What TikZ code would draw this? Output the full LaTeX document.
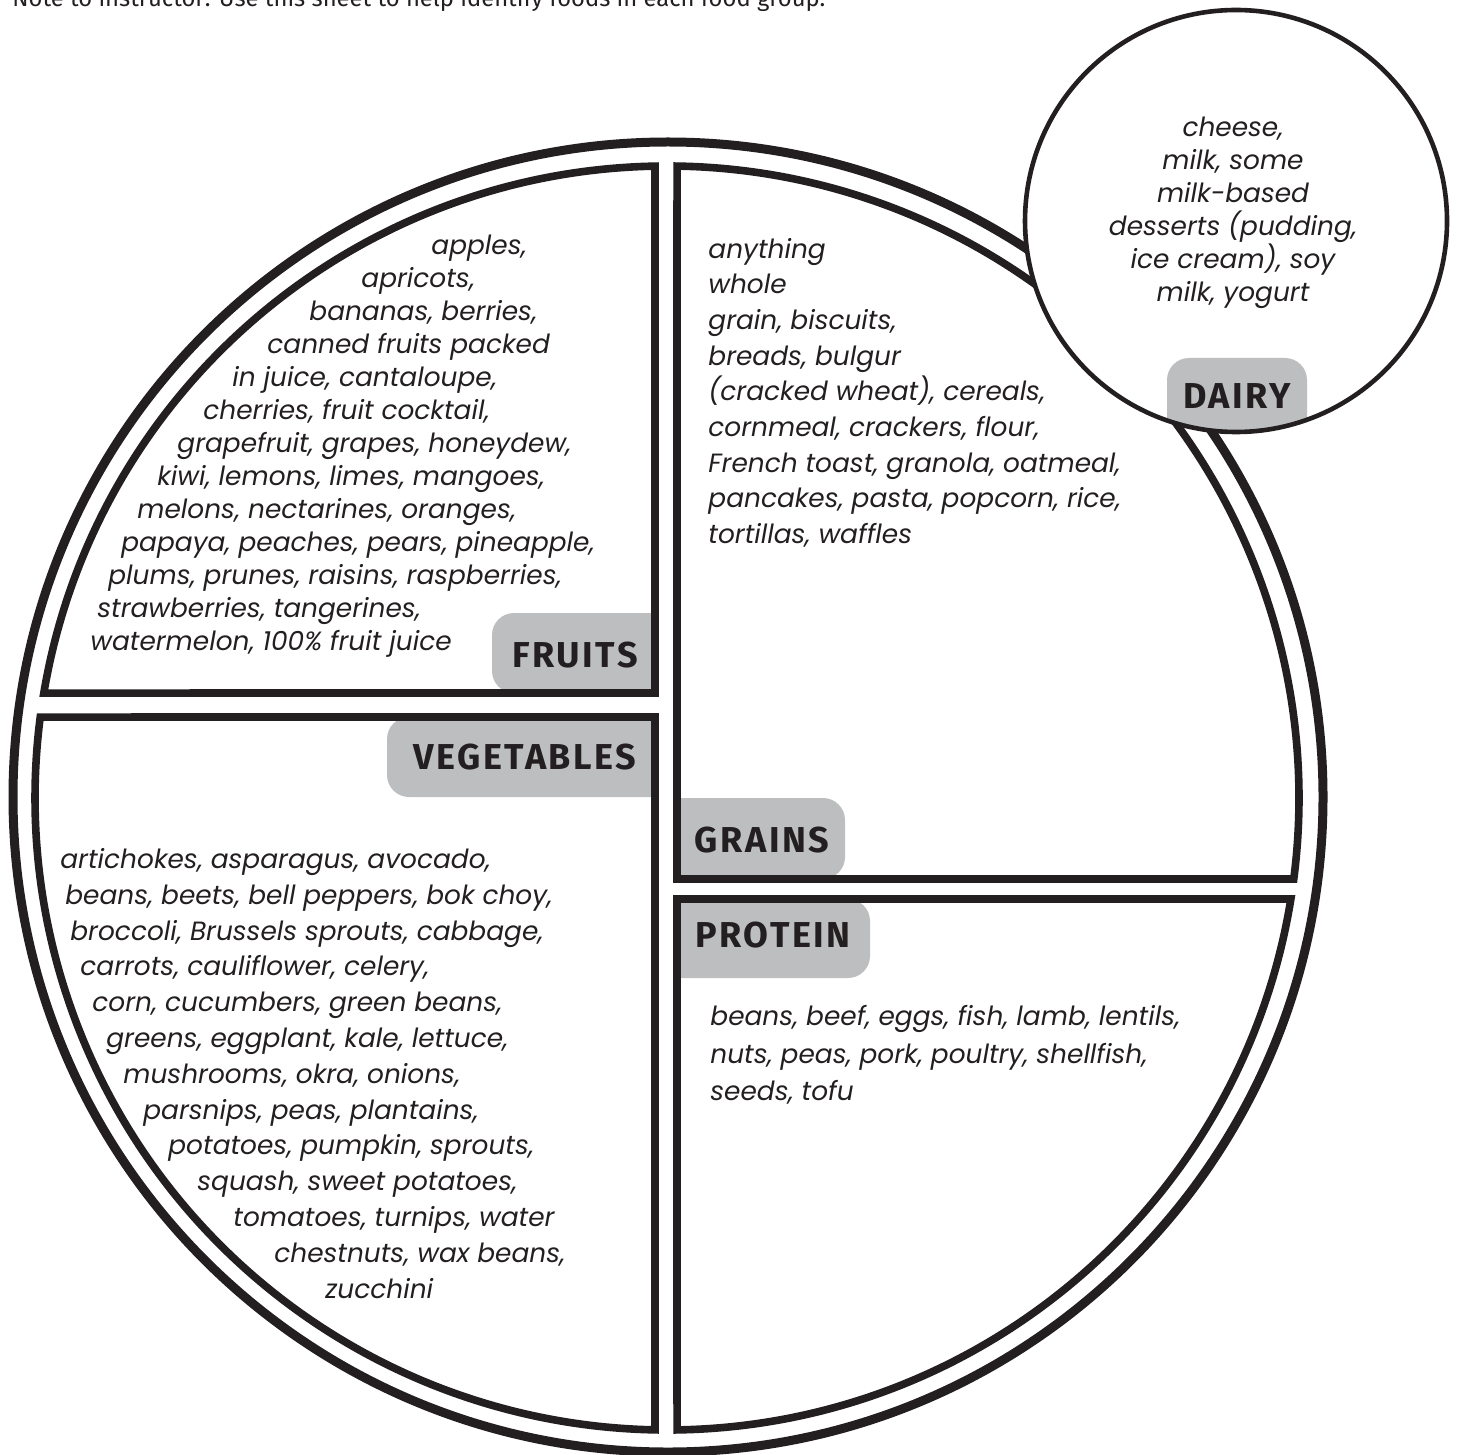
\documentclass[tikz,border=0pt]{standalone}
\usepackage{fontspec}
\setmainfont{Poppins}
\newfontfamily\tagfont{Fira Sans}
\newfontfamily\tagfontspaced[LetterSpace=7]{Fira Sans}
\usetikzlibrary{calc}
\definecolor{ink}{HTML}{231F20}
\definecolor{taggray}{HTML}{BCBEC0}
\tikzset{
  every node/.style={inner sep=0pt, text=ink},
  rim/.style={draw=ink, line width=4.5pt},
  quad/.style={draw=ink, line width=3.8pt, line join=miter},
  dairyrim/.style={draw=ink, line width=2.3pt},
  tag/.style={fill=taggray, rounded corners=11pt},
  tagtext/.style={font=\tagfontspaced\bfseries\fontsize{18}{20}\selectfont},
  food/.style={font=\itshape\fontsize{13.2}{15}\selectfont, anchor=mid west, yshift=-2pt},
  dairyfood/.style={food, anchor=mid},
  note/.style={font=\tagfont\fontsize{11.9}{14}\selectfont, anchor=base west},
}
\begin{document}
\begin{tikzpicture}[x=0.5pt, y=-0.5pt]
\useasboundingbox (0,0) rectangle (1459,1454);

\node[note] (hint) at (12,7) {Note to instructor: Use this sheet to help identify foods in each food group.};

% --- plate ---
\coordinate (c) at (667,798);
\draw[rim] (668,797) circle[radius=655];

% label boxes, cut by the quadrant borders
\begin{scope}
  \clip (0,0) rectangle (655,1454);
  \fill[tag] (492,613) rectangle (700,693);
  \fill[tag] (387,717) rectangle (700,797);
\end{scope}
\begin{scope}
  \clip (677,0) rectangle (1459,1454);
  \fill[tag] (630,798) rectangle (845,879);
  \fill[tag] (630,899) rectangle (870,978);
\end{scope}

% --- quadrants ---
\draw[quad] (655,693) -- ($(c)+(-170.44:632)$) arc[start angle=-170.44, end angle=-91.09, radius=632] -- cycle;
\draw[quad] (655,717) -- ($(c)+(187.36:632)$) arc[start angle=187.36, end angle=91.09, radius=632] -- cycle;
\draw[quad] (677,879) -- ($(c)+(7.36:632)$) arc[start angle=7.36, end angle=-89.09, radius=632] -- cycle;
\draw[quad] (677,899) -- ($(c)+(9.20:632)$) arc[start angle=9.20, end angle=89.09, radius=632] -- cycle;

% --- dairy cup ---
\fill[white] (1236,221) circle[radius=211];
\begin{scope}
  \clip (1236,221) circle[radius=211];
  \fill[tag] (1167,358) rectangle (1307,470);
\end{scope}
\draw[dairyrim] (1236,221) circle[radius=211];

% --- labels ---
\node[tagtext] (fruits) at (575,655) {FRUITS};
\node[tagtext] (veg) at (525,757) {VEGETABLES};
\node[tagtext] (grains) at (762,840) {GRAINS};
\node[tagtext] (protein) at (773,935) {PROTEIN};
\node[tagtext] (dairy) at (1237,396) {DAIRY};

% --- fruits ---
\node[food] (fr1) at (431,245) {apples,};
\node[food] (fr2) at (361,278) {apricots,};
\node[food] (fr3) at (309,311) {bananas, berries,};
\node[food] (fr4) at (267,344) {canned fruits packed};
\node[food] (fr5) at (232,377) {in juice, cantaloupe,};
\node[food] (fr6) at (203,410) {cherries, fruit cocktail,};
\node[food] (fr7) at (177,443) {grapefruit, grapes, honeydew,};
\node[food] (fr8) at (157,476) {kiwi, lemons, limes, mangoes,};
\node[food] (fr9) at (137,509) {melons, nectarines, oranges,};
\node[food] (fr10) at (121,542) {papaya, peaches, pears, pineapple,};
\node[food] (fr11) at (108,575) {plums, prunes, raisins, raspberries,};
\node[food] (fr12) at (97,608) {strawberries, tangerines,};
\node[food] (fr13) at (90,641) {watermelon, 100\% fruit juice};

% --- grains ---
\node[food] (gr1) at (708,249) {anything};
\node[food] (gr2) at (708,284) {whole};
\node[food] (gr3) at (708,320) {grain, biscuits,};
\node[food] (gr4) at (708,356) {breads, bulgur};
\node[food] (gr5) at (708,391) {(cracked wheat), cereals,};
\node[food] (gr6) at (708,427) {cornmeal, crackers, flour,};
\node[food] (gr7) at (708,463) {French toast, granola, oatmeal,};
\node[food] (gr8) at (708,498) {pancakes, pasta, popcorn, rice,};
\node[food] (gr9) at (708,534) {tortillas, waffles};

% --- vegetables ---
\node[food] (vg1) at (60,859) {artichokes, asparagus, avocado,};
\node[food] (vg2) at (65,895) {beans, beets, bell peppers, bok choy,};
\node[food] (vg3) at (70,931) {broccoli, Brussels sprouts, cabbage,};
\node[food] (vg4) at (80,966) {carrots, cauliflower, celery,};
\node[food] (vg5) at (92,1002) {corn, cucumbers, green beans,};
\node[food] (vg6) at (106,1038) {greens, eggplant, kale, lettuce,};
\node[food] (vg7) at (123,1074) {mushrooms, okra, onions,};
\node[food] (vg8) at (143,1110) {parsnips, peas, plantains,};
\node[food] (vg9) at (168,1145) {potatoes, pumpkin, sprouts,};
\node[food] (vg10) at (197,1181) {squash, sweet potatoes,};
\node[food] (vg11) at (233,1217) {tomatoes, turnips, water};
\node[food] (vg12) at (274,1253) {chestnuts, wax beans,};
\node[food] (vg13) at (325,1289) {zucchini};

% --- protein ---
\node[food] (pr1) at (710,1016) {beans, beef, eggs, fish, lamb, lentils,};
\node[food] (pr2) at (710,1054) {nuts, peas, pork, poultry, shellfish,};
\node[food] (pr3) at (710,1091) {seeds, tofu};

% --- dairy ---
\node[dairyfood] (da1) at (1233,127) {cheese,};
\node[dairyfood] (da2) at (1233,160) {milk, some};
\node[dairyfood] (da3) at (1233,193) {milk-based};
\node[dairyfood] (da4) at (1233,226) {desserts (pudding,};
\node[dairyfood] (da5) at (1233,259) {ice cream), soy};
\node[dairyfood] (da6) at (1233,292) {milk, yogurt};

\end{tikzpicture}
\end{document}
